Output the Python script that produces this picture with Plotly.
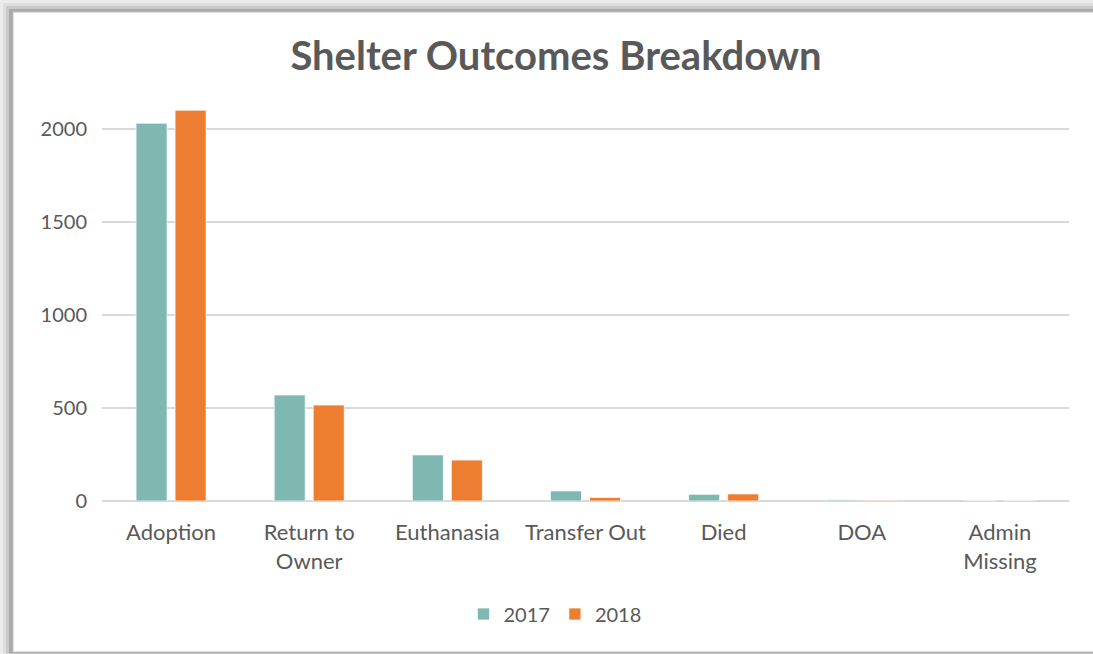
import plotly.graph_objects as go

categories = ["Adoption", "Return to<br>Owner", "Euthanasia", "Transfer Out", "Died", "DOA", "Admin<br>Missing"]
values_2017 = [2032, 570, 248, 54, 36, 6, 0]
values_2018 = [2102, 516, 220, 19, 38, 4, 0]
series_names = ["2017", "2018"]
colors = ["#7EB8B1", "#ED7D31"]
y_ticks = [0, 500, 1000, 1500, 2000]

W, H = 1093, 654
L, R, T, B = 102, 24, 92, 153
Y_MAX = 2200

fig = go.Figure()
for name, vals, col in zip(series_names, [values_2017, values_2018], colors):
    fig.add_trace(go.Bar(
        x=categories, y=vals, name=name,
        marker=dict(color=col, line=dict(color="rgba(255,255,255,0.7)", width=1)),
    ))

pw = W - L - R
ph = H - T - B

def px(x):
    return (x - L) / pw

def py(y):
    return (H - B - y) / ph

shapes = []
for (x0, y0, col) in [(0, 0, "#ececec"), (3, 3, "#dedede"), (6, 6, "#c9c9c9"), (9, 9, "#ababab")]:
    shapes.append(dict(type="rect", xref="paper", yref="paper",
                       x0=px(x0), x1=px(W + 5), y0=py(y0), y1=py(H - 0.5),
                       fillcolor=col, line=dict(width=0), layer="below"))
shapes.append(dict(type="rect", xref="paper", yref="paper",
                   x0=px(13), x1=px(W + 5), y0=py(12), y1=py(652),
                   fillcolor="white", line=dict(color="#bfbfbf", width=1), layer="below"))

fig.update_layout(
    width=W, height=H,
    margin=dict(l=L, r=R, t=T, b=B),
    paper_bgcolor="#ececec",
    plot_bgcolor="rgba(0,0,0,0)",
    barmode="group",
    bargap=0.435,
    bargroupgap=0.205,
    shapes=shapes,
    title=dict(text="<b>Shelter Outcomes Breakdown</b>", x=556 / W, xref="container",
               y=1 - 56 / H, yref="container", xanchor="center", yanchor="middle",
               font=dict(family="Lato", size=40, color="#595959")),
    font=dict(family="Lato", color="#595959", size=20),
    legend=dict(orientation="h", x=px(555), xanchor="center",
                y=1 - 614 / H, yref="container", yanchor="middle",
                font=dict(size=20, color="#595959"), bgcolor="rgba(0,0,0,0)",
                itemwidth=30, traceorder="normal"),
    showlegend=True,
)
fig.update_yaxes(range=[0, Y_MAX], tickvals=y_ticks, showgrid=True, gridcolor="#d9d9d9",
                 gridwidth=1.5, zeroline=True, zerolinecolor="#d9d9d9", zerolinewidth=1.5,
                 showline=False, ticks="", ticklabelstandoff=14,
                 tickfont=dict(size=20, color="#595959"))
fig.update_xaxes(showgrid=False, showline=False, ticks="", ticklabelstandoff=16,
                 tickfont=dict(size=22, color="#595959"))

fig.write_html("out.html", config={"displayModeBar": False},
               post_script="document.body.style.margin='0';document.body.style.overflow='hidden';")
